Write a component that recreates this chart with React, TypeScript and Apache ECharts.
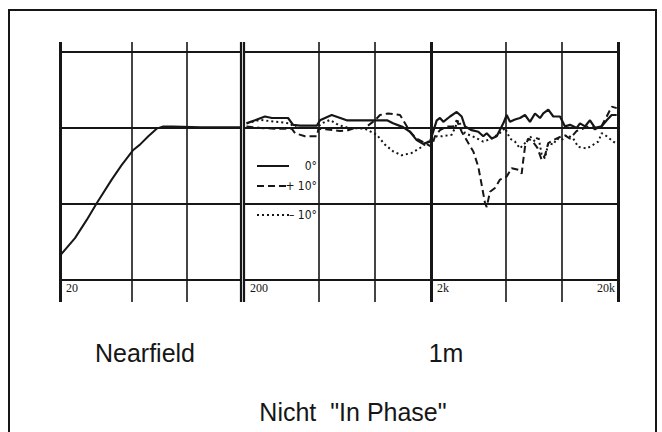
import React, { useEffect, useRef } from 'react';
import * as echarts from 'echarts';

// ---------- data ----------
// Nearfield panel (20 Hz – 200 Hz)
const nearFreq = [20, 24.2, 28.1, 31.9, 38.6, 43.8, 50.8, 55.3, 61.5, 68.4, 74.4, 84, 120, 200];
const nearDb = [-16.8, -14.5, -12.1, -9.9, -6.8, -4.9, -2.9, -2.2, -1.1, -0.1, 0.2, 0.2, 0.1, 0.1];

// 1 m panel (200 Hz – 20 kHz), 0°
const solidFreq = [206, 229, 259, 282, 344, 366, 399, 491, 510, 589, 708, 1164, 1253, 1417, 1544, 1677, 1813, 1976, 2146, 2234, 2327, 2528, 2745, 2918, 3040, 3302, 3580, 3808, 3972, 4224, 4492, 4872, 5080, 5290, 5626, 5984, 6364, 6766, 7196, 7656, 7972, 8478, 9016, 9792, 10414, 11076, 12026, 12528, 13322, 14168, 15068, 16360, 17400, 18506, 19680];
const solidDb = [0.6, 1.0, 1.5, 1.3, 1.3, 0.4, 0.3, 0.3, 1.0, 1.7, 1.0, 1.0, 0.6, 0.1, -0.5, -1.6, -2.1, -1.8, 1.0, 1.3, 0.8, 1.5, 2.1, 1.5, 0.2, -0.3, -0.5, -1.1, -0.7, -1.4, -1.1, 0.6, 1.7, 0.8, 1.1, 1.3, 1.7, 0.8, 1.9, 1.3, 1.9, 2.4, 1.5, 1.5, 0.2, 0.4, 0.0, 0.6, 0.2, 1.0, 0.0, 0.2, 1.0, 1.7, 1.7];

// +10°
const dashFreq = [206, 244, 290, 360, 375, 424, 491, 500, 560, 652, 720, 785, 887, 1004, 1067, 1178, 1366, 1452, 1544, 1677, 1858, 2017, 2100, 2234, 2427, 2632, 2745, 2918, 3166, 3368, 3580, 3734, 3890, 3972, 4136, 4398, 4678, 5080, 5402, 5860, 6110, 6232, 6364, 6626, 7000, 7400, 7816, 8140, 8478, 9016, 9792, 10414, 11076, 12026, 13322, 14168, 15068, 16360, 17400, 18506, 19680];
const dashDb = [0.2, 0.0, -0.1, -0.1, -0.7, -1.1, -1.1, -0.1, -0.2, -0.4, -0.3, 0.0, 0.0, 1.0, 1.7, 1.9, 1.7, 0.6, -0.5, -1.4, -2.0, -2.5, -1.1, -0.3, 0.2, 0.2, 1.0, -0.5, -2.0, -3.1, -5.1, -7.5, -9.9, -10.4, -8.4, -7.9, -6.8, -6.4, -5.3, -5.5, -6.0, -4.2, -2.5, -1.4, -1.8, -2.6, -4.2, -3.6, -2.0, -1.6, -1.2, -1.0, -1.4, -0.4, 0.0, 0.3, -0.2, 0.3, 1.5, 2.8, 2.6];

// −10°
const dotFreq = [207, 244, 275, 352, 367, 384, 491, 521, 577, 639, 722, 887, 1025, 1135, 1257, 1394, 1577, 1784, 1976, 2146, 2282, 2580, 2688, 2800, 3040, 3400, 3808, 4224, 4776, 4974, 5290, 5626, 5984, 6232, 6498, 6766, 7196, 7496, 7816, 8140, 8478, 9016, 9400, 10000, 10638, 11534, 12264, 13604, 14758, 15696, 16360, 17400, 18874, 20000];
const dotDb = [0.6, 1.05, 0.9, 0.6, 0.2, 0.0, 0.0, 0.6, 1.05, 0.4, 0.0, -0.1, -0.9, -2.2, -3.1, -3.6, -3.3, -2.5, -1.6, -1.1, -1.1, -0.9, 0.0, 1.0, -0.7, -1.2, -1.8, -1.4, -0.5, 0.0, -1.4, -1.8, -2.7, -2.2, -1.8, -1.1, -1.8, -1.1, -3.5, -4.0, -2.0, -2.2, -1.4, -1.6, -0.9, -1.4, -2.5, -2.7, -2.2, -1.8, -0.7, -1.1, -1.8, -2.2];

const seriesNames = ['0°', '+ 10°', '– 10°'];

// grid lines (dB and Hz)
const hLines = [10, 0, -10, -20];
const leftVLines = [20, 50, 100, 200];
const rightVLines = [200, 500, 1000, 2000, 5000, 10000, 20000];
const heavyLines = [20, 2000, 20000];

// tick labels
const tickFreqs = [20, 200, 2000, 20000];
const tickLabels = ['20', '200', '2k', '20k'];
const tickGrid = [0, 1, 1, 1];

// panel captions
const captions = ['Nearfield', '1m', 'Nicht  "In Phase"'];

const Y_MIN = -22.9;
const Y_MAX = 11.3;
const INK = '#161616';

const zip = (a: number[], b: number[]) => a.map((v, i) => [v, b[i]]);

const markLines = (vs: number[]) => ({
  silent: true,
  symbol: ['none', 'none'],
  label: { show: false },
  emphasis: { disabled: true },
  animation: false,
  data: [
    ...vs.map((v) => ({
      xAxis: v,
      lineStyle: {
        color: INK,
        type: 'solid',
        width: heavyLines.includes(v) ? 3 : v === 200 ? 2.2 : 1.6,
      },
    })),
    ...hLines.map((h) => ({ yAxis: h, lineStyle: { color: INK, type: 'solid', width: 2 } })),
  ],
});

export default function App() {
  const ref = useRef<HTMLDivElement>(null);

  useEffect(() => {
    if (!ref.current) return;
    const chart = echarts.init(ref.current, undefined, { renderer: 'svg' });

    const option: any = {
      animation: false,
      backgroundColor: '#ffffff',
      grid: [
        { left: 60, top: 42, width: 181, height: 260 },
        { left: 244, top: 42, width: 374, height: 260 },
      ],
      xAxis: [
        { type: 'log', logBase: 10, gridIndex: 0, min: 20, max: 200, show: false },
        { type: 'log', logBase: 10, gridIndex: 1, min: 200, max: 20000, show: false },
      ],
      yAxis: [
        { type: 'value', gridIndex: 0, min: Y_MIN, max: Y_MAX, show: false },
        { type: 'value', gridIndex: 1, min: Y_MIN, max: Y_MAX, show: false },
      ],
      legend: seriesNames.map((name, i) => ({
        data: [name],
        left: 251,
        top: [155, 175, 204][i],
        orient: 'vertical',
        itemWidth: 32,
        itemHeight: 12,
        itemGap: 0,
        padding: [5, 8, 5, 5],
        z: 10,
        selectedMode: false,
        itemStyle: { opacity: 0 },
        formatter: (n: string) => `{t|${n}}`,
        textStyle: {
          color: INK,
          rich: {
            t: {
              width: 23,
              align: 'right',
              fontSize: 12,
              color: INK,
              fontFamily: '"Liberation Sans Narrow", "DejaVu Sans Condensed", "Liberation Sans", sans-serif',
            },
          },
        },
      })),
      series: [
        {
          type: 'line',
          name: 'Nearfield',
          xAxisIndex: 0,
          yAxisIndex: 0,
          data: zip(nearFreq, nearDb),
          symbol: 'none',
          silent: true,
          lineStyle: { color: INK, width: 2 },
          markLine: markLines(leftVLines),
        },
        {
          type: 'line',
          name: seriesNames[2],
          xAxisIndex: 1,
          yAxisIndex: 1,
          data: zip(dotFreq, dotDb),
          symbol: 'none',
          silent: true,
          itemStyle: { color: INK },
          lineStyle: { color: INK, width: 2, type: [2, 3] },
          markLine: markLines(rightVLines),
        },
        {
          type: 'line',
          name: seriesNames[1],
          xAxisIndex: 1,
          yAxisIndex: 1,
          data: zip(dashFreq, dashDb),
          symbol: 'none',
          silent: true,
          itemStyle: { color: INK },
          lineStyle: { color: INK, width: 2, type: [7, 4] },
        },
        {
          type: 'line',
          name: seriesNames[0],
          xAxisIndex: 1,
          yAxisIndex: 1,
          data: zip(solidFreq, solidDb),
          symbol: 'none',
          silent: true,
          itemStyle: { color: INK },
          lineStyle: { color: INK, width: 2.2 },
        },
      ],
    };
    chart.setOption(option);

    // tick labels placed through the axes' own scales
    const tickTexts = tickFreqs.map((f, i) => {
      const g = tickGrid[i];
      const p = chart.convertToPixel({ xAxisIndex: g, yAxisIndex: g }, [f, -20]) as number[];
      const last = i === tickFreqs.length - 1;
      return {
        type: 'text',
        x: last ? p[0] - 3 : p[0] + 6,
        y: p[1] + 8,
        silent: true,
        style: {
          text: tickLabels[i],
          fill: INK,
          fontSize: 12,
          fontFamily: '"Liberation Serif", "DejaVu Serif", serif',
          textAlign: last ? 'right' : 'left',
          textVerticalAlign: 'middle',
        },
      };
    });

    const captionPos = [
      [145, 353],
      [446, 353],
      [353, 412],
    ];
    const captionTexts = captions.map((c, i) => ({
      type: 'text',
      x: captionPos[i][0],
      y: captionPos[i][1],
      silent: true,
      style: {
        text: c,
        fill: INK,
        fontSize: 25,
        fontFamily: '"Liberation Sans", Arial, sans-serif',
        textAlign: 'center',
        textVerticalAlign: 'middle',
      },
    }));

    chart.setOption({
      graphic: [
        {
          type: 'rect',
          silent: true,
          shape: { x: 9, y: 10, width: 647, height: 440 },
          style: { fill: 'none', stroke: INK, lineWidth: 2 },
        },
        ...tickTexts,
        ...captionTexts,
      ],
    });

    return () => chart.dispose();
  }, []);

  return (
    <div
      ref={ref}
      style={{ position: 'absolute', left: 0, top: 0, width: 662, height: 432, background: '#fff' }}
    />
  );
}
